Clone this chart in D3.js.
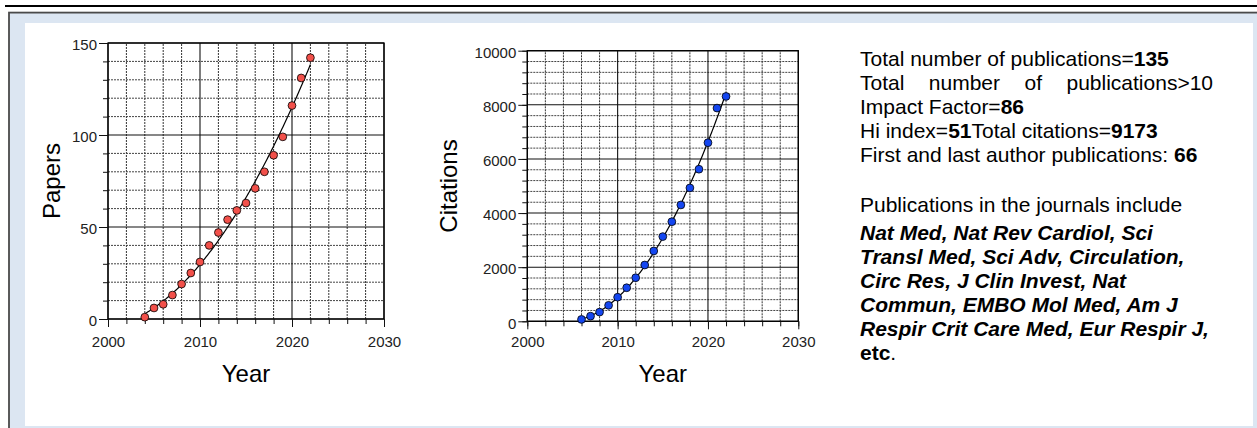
<!DOCTYPE html>
<html><head><meta charset="utf-8">
<script src="https://cdn.jsdelivr.net/npm/d3@7"></script>
<style>html,body{margin:0;padding:0;background:#fff;overflow:hidden}</style>
</head><body>
<svg id="c" width="1257" height="428" xmlns="http://www.w3.org/2000/svg"></svg>
<script>
// ---------- data ----------
const paperYears  = [2004,2005,2006,2007,2008,2009,2010,2011,2012,2013,2014,2015,2016,2017,2018,2019,2020,2021,2022];
const paperCounts = [1,6,8,13,19,25,31,40,47,54,59,63,71,80,89,99,116,131,142];
const citationYears  = [2006,2007,2008,2009,2010,2011,2012,2013,2014,2015,2016,2017,2018,2019,2020,2021,2022];
const citationCounts = [70,190,340,590,890,1240,1610,2080,2600,3130,3680,4300,4930,5620,6600,7880,8310];
const yearTicks = [2000,2010,2020,2030];
const paperTicks = [0,50,100,150];
const citationTicks = [0,2000,4000,6000,8000,10000];
const xTitle = "Year";
const paperTitle = "Papers";
const citationTitle = "Citations";

const statLines = [
  [["Total number of publications=",0],["135",1]],
  "JUSTIFY:Total number of publications>10",
  [["Impact Factor=",0],["86",1]],
  [["Hi index=",0],["51",1],["Total citations=",0],["9173",1]],
  [["First and last author publications: ",0],["66",1]]
];
const journalIntro = "Publications in the journals include";
const journalLines = [
  "Nat Med, Nat Rev Cardiol, Sci",
  "Transl Med, Sci Adv, Circulation,",
  "Circ Res, J Clin Invest, Nat",
  "Commun, EMBO Mol Med, Am J",
  "Respir Crit Care Med, Eur Respir J,"
];

// ---------- frame ----------
const svg = d3.select("#c");
svg.append("rect").attr("x",0).attr("y",0).attr("width",1257).attr("height",428).attr("fill","#fff");
svg.append("line").attr("x1",5).attr("x2",1257).attr("y1",6).attr("y2",6).attr("stroke","#000").attr("stroke-width",2.2);
svg.append("rect").attr("x",9).attr("y",12.6).attr("width",1300).attr("height",500)
   .attr("fill","#dce6f2").attr("stroke","#4a4a4a").attr("stroke-width",1.8);
svg.append("rect").attr("x",25).attr("y",23).attr("width",1228).attr("height",403).attr("fill","#fff");

// ---------- helpers ----------
function quadFit(xs, ys){
  const x0 = d3.mean(xs);
  const S = [0,0,0,0,0], T = [0,0,0];
  xs.forEach((xv,i)=>{ const u = xv-x0; let p=1;
    for(let k=0;k<5;k++){ S[k]+=p; if(k<3) T[k]+=p*ys[i]; p*=u; } });
  const A = [[S[0],S[1],S[2],T[0]],[S[1],S[2],S[3],T[1]],[S[2],S[3],S[4],T[2]]];
  for(let i=0;i<3;i++){ for(let j=i+1;j<3;j++){ const f=A[j][i]/A[i][i]; for(let k=i;k<4;k++) A[j][k]-=f*A[i][k]; } }
  const c=[0,0,0];
  for(let i=2;i>=0;i--){ let s=A[i][3]; for(let k=i+1;k<3;k++) s-=A[i][k]*c[k]; c[i]=s/A[i][i]; }
  return xv => { const u=xv-x0; return c[0]+c[1]*u+c[2]*u*u; };
}

const tickFont = "'Liberation Sans', Arial, sans-serif";

function drawPanel(o){
  const g = svg.append("g");
  const x = d3.scaleLinear().domain([2000,2030]).range(o.xr);
  const y = d3.scaleLinear().domain([0,o.ymax]).range(o.yr);
  const xMinor = d3.range(2000,2031,2);
  const yMinor = d3.range(0,o.ymax+1,o.ystep);
  // minor grid
  g.append("g").selectAll("line").data(xMinor.filter(v=>!yearTicks.includes(v))).join("line")
    .attr("x1",d=>x(d)).attr("x2",d=>x(d)).attr("y1",y(0)).attr("y2",y(o.ymax))
    .attr("stroke","#333").attr("stroke-width",1).attr("stroke-dasharray","2,1");
  g.append("g").selectAll("line").data(yMinor.filter(v=>!o.yticks.includes(v))).join("line")
    .attr("x1",x(2000)).attr("x2",x(2030)).attr("y1",d=>y(d)).attr("y2",d=>y(d))
    .attr("stroke","#444").attr("stroke-width",1).attr("stroke-dasharray","2,1");
  // major grid
  g.append("g").selectAll("line").data(yearTicks).join("line")
    .attr("x1",d=>x(d)).attr("x2",d=>x(d)).attr("y1",y(0)).attr("y2",y(o.ymax))
    .attr("stroke","#111").attr("stroke-width",1.1);
  g.append("g").selectAll("line").data(o.yticks).join("line")
    .attr("x1",x(2000)).attr("x2",x(2030)).attr("y1",d=>y(d)).attr("y2",d=>y(d))
    .attr("stroke","#111").attr("stroke-width",1.1);
  g.append("rect").attr("x",x(2000)).attr("y",y(o.ymax)).attr("width",x(2030)-x(2000)).attr("height",y(0)-y(o.ymax))
    .attr("fill","none").attr("stroke","#000").attr("stroke-width",1.3);
  // axes
  const styleAxis = sel => { sel.select(".domain").remove(); sel.selectAll("line").attr("stroke","#111");
    sel.selectAll("text").attr("font-family",tickFont).attr("font-size",15).attr("fill","#222"); };
  g.append("g").attr("transform",`translate(${x(2000)},0)`)
    .call(d3.axisLeft(y).tickValues(yMinor).tickSize(5).tickFormat("")).call(styleAxis);
  g.append("g").attr("transform",`translate(${x(2000)},0)`)
    .call(d3.axisLeft(y).tickValues(o.yticks).tickSize(9).tickPadding(2).tickFormat(d3.format("d")))
    .call(styleAxis).call(s=>s.selectAll("text").attr("dy","0.45em"));
  g.append("g").attr("transform",`translate(0,${y(0)})`)
    .call(d3.axisBottom(x).tickValues(xMinor).tickSize(5).tickFormat("")).call(styleAxis);
  g.append("g").attr("transform",`translate(0,${y(0)})`)
    .call(d3.axisBottom(x).tickValues(yearTicks).tickSize(8).tickPadding(o.xpad).tickFormat(d3.format("d"))).call(styleAxis);
  // titles
  g.append("text").attr("x",(o.xr[0]+o.xr[1])/2).attr("y",382).attr("text-anchor","middle")
    .attr("font-family",tickFont).attr("font-size",24).attr("fill","#000").text(xTitle);
  g.append("text").attr("transform",`translate(${o.labelX},${(o.yr[0]+o.yr[1])/2}) rotate(-90)`)
    .attr("text-anchor","middle").attr("font-family",tickFont).attr("font-size",24).attr("fill","#000").text(o.title);
  // fit curve
  const f = quadFit(o.years,o.vals);
  const xs = d3.range(o.years[0], o.years[o.years.length-1]+0.001, 0.1);
  g.append("path").datum(xs).attr("fill","none").attr("stroke","#000").attr("stroke-width",1.2)
    .attr("d", d3.line().x(d=>x(d)).y(d=>y(Math.max(0,f(d)))));
  // points
  g.append("g").selectAll("circle").data(o.years).join("circle")
    .attr("cx",d=>x(d)).attr("cy",(d,i)=>y(o.vals[i])).attr("r",3.9)
    .attr("fill",o.color).attr("stroke","#000").attr("stroke-width",0.8);
}

drawPanel({xr:[108,384], yr:[319,43], ymax:150, ystep:10, yticks:paperTicks, xpad:9,
  years:paperYears, vals:paperCounts, color:"#f2504a", title:paperTitle, labelX:60});
drawPanel({xr:[527.3,798.3], yr:[321.3,50.7], ymax:10000, ystep:400, yticks:citationTicks, xpad:7,
  years:citationYears, vals:citationCounts, color:"#1446f0", title:citationTitle, labelX:457});

// ---------- text panel ----------
const tx = 860, tRight = 1213, fs = 21;
const tg = svg.append("g").attr("font-family",tickFont).attr("font-size",fs).attr("fill","#000");
const statY = [66,90,114,138,162];
statLines.forEach((ln,i)=>{
  if(typeof ln === "string"){
    const words = ln.replace("JUSTIFY:","").split(" ");
    const ts = words.map(w=>tg.append("text").attr("y",statY[i]).text(w));
    const widths = ts.map(t=>t.node().getComputedTextLength());
    const gap = (tRight-tx-d3.sum(widths))/(words.length-1);
    let cx = tx; ts.forEach((t,k)=>{ t.attr("x",cx); cx += widths[k]+gap; });
  } else {
    const t = tg.append("text").attr("x",tx).attr("y",statY[i]).attr("xml:space","preserve");
    ln.forEach(([s,b])=>t.append("tspan").attr("font-weight",b?"bold":"normal").text(s));
  }
});
tg.append("text").attr("x",tx).attr("y",212).text(journalIntro);
const jY = [240,264,288,312,336];
journalLines.forEach((s,i)=>tg.append("text").attr("x",tx).attr("y",jY[i])
  .attr("font-weight","bold").attr("font-style","italic").text(s));
const et = tg.append("text").attr("x",tx).attr("y",360);
et.append("tspan").attr("font-weight","bold").text("etc");
et.append("tspan").text(".");
</script>
</body></html>
